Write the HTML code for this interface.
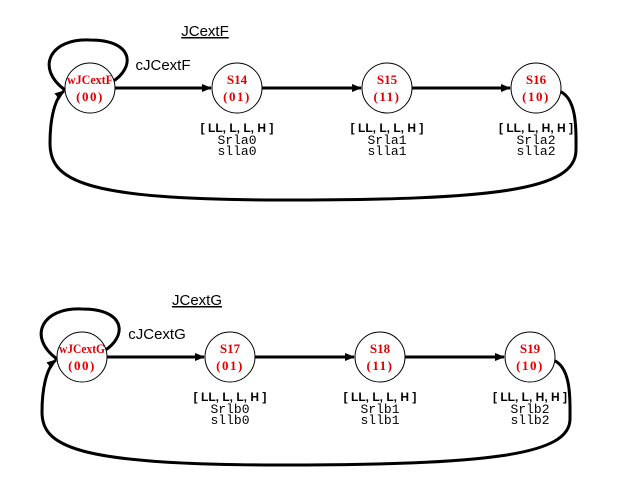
<!DOCTYPE html>
<html><head><meta charset="utf-8"><style>
body{margin:0;background:#fff}
svg{display:block}
.t{font-family:"Liberation Sans",sans-serif;font-size:15px;fill:#000}
.s{font-family:"Liberation Serif",serif;font-weight:bold;font-size:13px;fill:#e00000}
.b{font-family:"Liberation Sans",sans-serif;font-weight:bold;font-size:12px;fill:#000}
.m{font-family:"Liberation Mono",monospace;font-size:13px;fill:#000}
</style></head><body>
<svg width="634" height="490">
<defs><marker id="ar" markerWidth="10" markerHeight="10" refX="9" refY="5" orient="auto" markerUnits="userSpaceOnUse"><path d="M0,1 L10,5 L0,9 z" fill="#000"/></marker></defs>
<g id="top"></g>
<g id="bot"></g>
</svg>
<script>
const NS="http://www.w3.org/2000/svg";
function mk(p,tag,a,txt){const e=document.createElementNS(NS,tag);for(const k in a)e.setAttribute(k,a[k]);if(txt!==undefined)e.textContent=txt;p.appendChild(e);return e;}
const rows=[
 {g:'top',title:'JCextF',tx:205,cx:163,cond:'cJCextF',xs:[90,237,387,536],y:88,names:['wJCextF','S14','S15','S16'],codes:['(00)','(01)','(11)','(10)'],
  labels:['[ LL, L, L, H ]','[  LL, L, L, H ]','[ LL, L, H, H ]'],s1:['Srla0','Srla1','Srla2'],s2:['slla0','slla1','slla2'],bottom:200},
 {g:'bot',title:'JCextG',tx:197,cx:157,cond:'cJCextG',xs:[82,230,380,530],y:357,names:['wJCextG','S17','S18','S19'],codes:['(00)','(01)','(11)','(10)'],
  labels:['[ LL, L, L, H ]','[  LL, L, L, H ]','[ LL, L, H, H ]'],s1:['Srlb0','Srlb1','Srlb2'],s2:['sllb0','sllb1','sllb2'],bottom:465}
];
const r=25;
rows.forEach(R=>{
 const g=document.getElementById(R.g);const y=R.y,xs=R.xs;
 const tt=mk(g,'text',{x:R.tx,y:y-52,'class':'t','text-anchor':'middle','text-decoration':'underline'},R.title);
 
 const c=mk(g,'text',{x:R.cx,y:y-18,'class':'t','text-anchor':'middle'},R.cond);
 
 const sl=mk(g,'path',{d:`M${xs[0]-25},${y+2} C${xs[0]-55},${y-20} ${xs[0]-40},${y-50} ${xs[0]} ${y-48} C${xs[0]+45},${y-48} ${xs[0]+45},${y-20} ${xs[0]+22},${y-6}`,fill:'none',stroke:'#000','stroke-width':3,'marker-start':'url(#ar)'});
 
 for(let i=0;i<3;i++){
  const l=mk(g,'line',{x1:xs[i]+r,y1:y,x2:xs[i+1]-r-1,y2:y,stroke:'#000','stroke-width':3,'marker-end':'url(#ar)'});
  
 }
 const ret=mk(g,'path',{d:`M${xs[3]+r-2},${y+3} C${xs[3]+42},${y+10} ${xs[3]+40},${y+45} ${xs[3]+40},${y+62} C${xs[3]+40},${R.bottom-10} ${xs[3]-40},${R.bottom} ${(xs[0]+xs[3])/2-30},${R.bottom} C${xs[0]-10},${R.bottom} ${xs[0]-40},${R.bottom-20} ${xs[0]-40},${y+55} C${xs[0]-40},${y+30} ${xs[0]-35},${y+10} ${xs[0]-26},${y+3}`,fill:'none',stroke:'#000','stroke-width':3,'marker-end':'url(#ar)'});
 
 for(let i=0;i<4;i++){
  const s=mk(g,'g',{});
  
  mk(s,'circle',{cx:xs[i],cy:y,r:r,fill:'#fff',stroke:'#000','stroke-width':1});
  const nm={x:xs[i],y:y-4,'class':'s','text-anchor':'middle'};
  if(i===0){nm.textLength=46;nm.lengthAdjust='spacingAndGlyphs';}
  mk(s,'text',nm,R.names[i]);
  mk(s,'text',{x:xs[i],y:y+13,'class':'s','text-anchor':'middle','letter-spacing':'1.5','font-size':'14'},R.codes[i]);
  if(i>0){
   const a=mk(g,'text',{x:xs[i],y:y+44,'class':'b','text-anchor':'middle'},R.labels[i-1]);
   
   const b=mk(g,'text',{x:xs[i],y:y+56,'class':'m','text-anchor':'middle'},R.s1[i-1]);
   
   const d=mk(g,'text',{x:xs[i],y:y+67,'class':'m','text-anchor':'middle'},R.s2[i-1]);
   
  }
 }
});
</script>
</body></html>
